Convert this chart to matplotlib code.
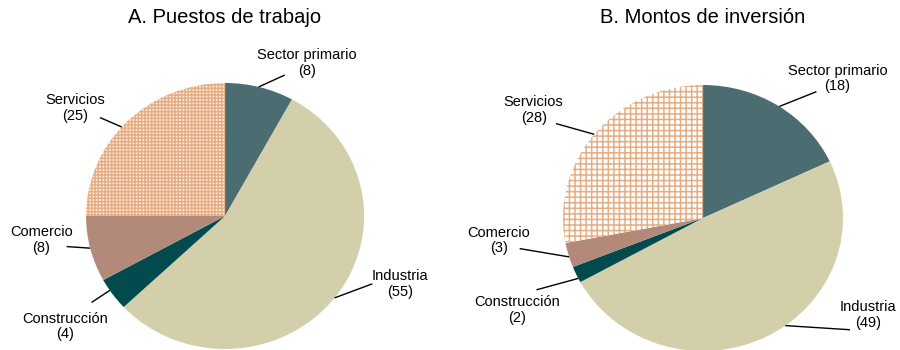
import matplotlib.pyplot as plt
import numpy as np

plt.rcParams['font.family'] = ['Liberation Sans', 'DejaVu Sans']
plt.rcParams['hatch.color'] = '#e6ad82'
plt.rcParams['hatch.linewidth'] = 1.1

# shares by sector (%), clockwise from 12 o'clock
sectores = ['Sector primario', 'Industria', 'Construcción', 'Comercio', 'Servicios']
puestos = [8, 55, 4, 8, 25]
inversion = [18, 49, 2, 3, 28]

colores = ['#4b6d72', '#d3cfaa', '#014b4f', '#b38a79', 'white']

# label text position, leader start and angle (deg) where the leader hits the pie
lab_a = [((0.59, 1.15), (0.43, 1.06), 76),
         ((1.26, -0.51), (1.06, -0.51), -38),
         ((-1.15, -0.83), (-0.96, -0.65), 214),
         ((-1.32, -0.18), (-1.14, -0.23), 194),
         ((-1.08, 0.81), (-0.90, 0.74), 138)]
lab_b = [((0.96, 1.05), (0.81, 0.95), 57),
         ((1.18, -0.73), (1.05, -0.84), -54),
         ((-1.33, -0.69), (-1.19, -0.54), 207),
         ((-1.46, -0.17), (-1.31, -0.23), 197),
         ((-1.21, 0.81), (-1.05, 0.71), 141)]


def torta(ax, valores, etiquetas, hatch, fondo, titulo, xt):
    wedges, _ = ax.pie(valores, colors=colores, startangle=90, counterclock=False,
                       radius=1, wedgeprops=dict(linewidth=0))
    # servicios: white fill with an orange grid
    wedges[4].set_facecolor(fondo)
    wedges[4].set_hatch(hatch)
    ax.set_aspect('auto')
    ax.set_xlim(-1, 1)
    ax.set_ylim(-1, 1)
    for nombre, v, (txt, ini, ang) in zip(sectores, valores, etiquetas):
        a = np.deg2rad(ang)
        ax.plot([ini[0], np.cos(a)], [ini[1], np.sin(a)], color='black', lw=1.0,
                clip_on=False, solid_capstyle='butt')
        ax.text(txt[0], txt[1], '%s\n(%d)' % (nombre, v), ha='center', va='center',
                fontsize=10.5, linespacing=1.15, clip_on=False)
    fig.text(xt, 0.949, titulo, ha='center', va='center', fontsize=14.5)


fig = plt.figure(figsize=(9, 3.5), dpi=100)
ax1 = fig.add_axes([0.0956, 0.0029, 0.3089, 0.76])
ax2 = fig.add_axes([0.6256, -0.0029, 0.3111, 0.76])

torta(ax1, puestos, lab_a, '+++++', '#fbeee4', 'A. Puestos de trabajo', 0.25)
torta(ax2, inversion, lab_b, '+++', 'white', 'B. Montos de inversión', 0.781)

fig.savefig('out.png', dpi=100)
